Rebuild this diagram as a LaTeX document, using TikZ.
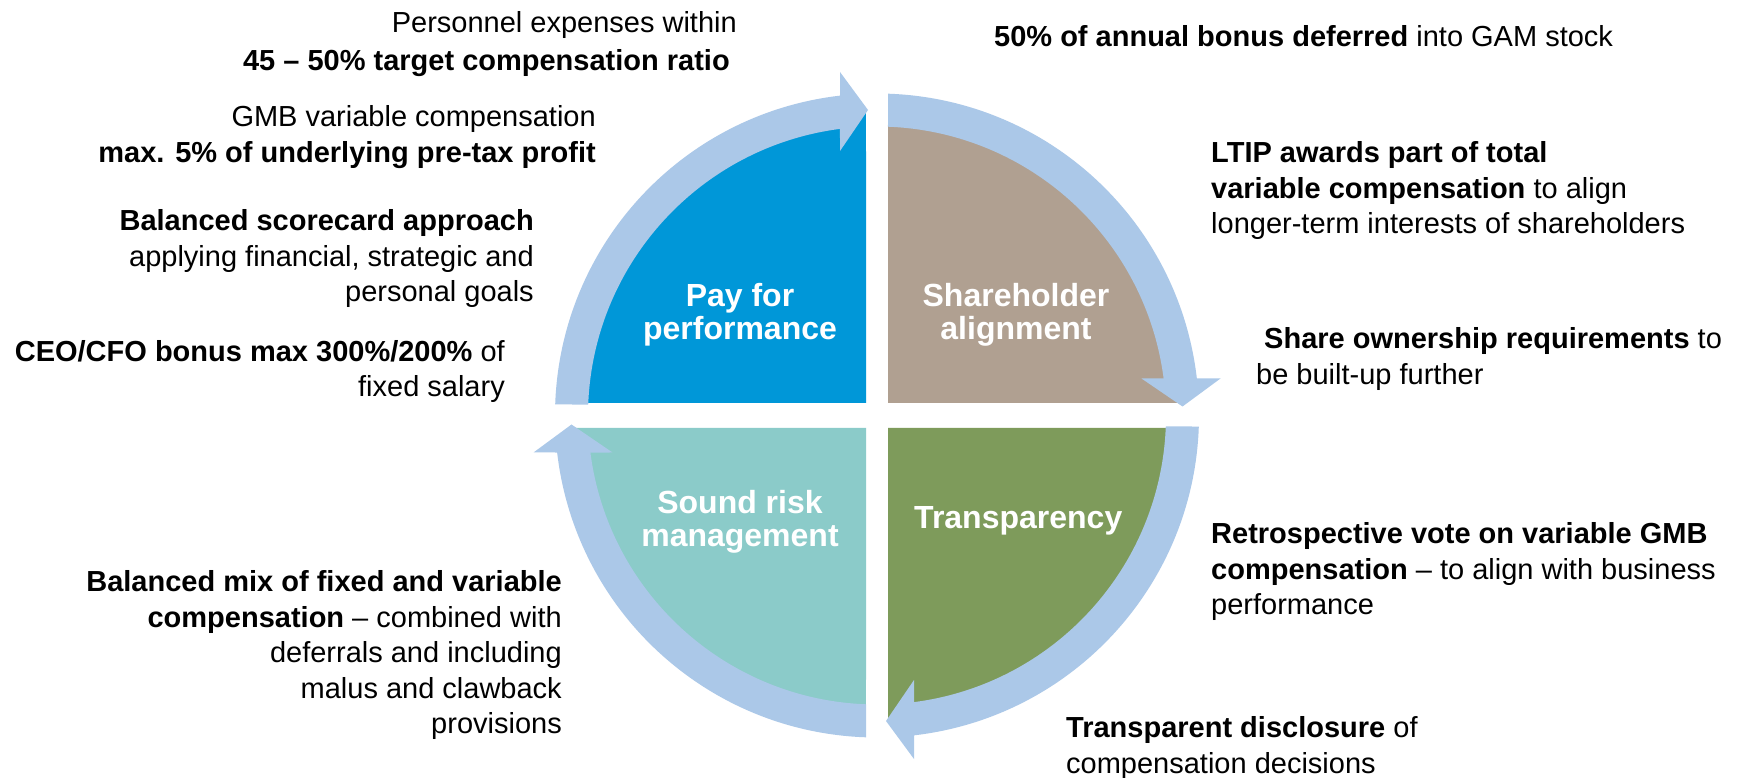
\documentclass[tikz,border=0pt]{standalone}
\usepackage{fontspec}
\setmainfont{Liberation Sans}
\definecolor{cblue}{HTML}{0097D8}
\definecolor{cbrown}{HTML}{B0A091}
\definecolor{cgreen}{HTML}{7E9B5B}
\definecolor{cteal}{HTML}{8BCBC9}
\definecolor{cring}{HTML}{ABC8E8}
\tikzset{
  sidetext/.style={inner sep=0pt, font=\fontsize{29}{35.5}\selectfont, text=black},
  lefttext/.style={sidetext, anchor=north east, align=right},
  righttext/.style={sidetext, anchor=north west, align=left},
  seclabel/.style={inner sep=0pt, font=\fontsize{32}{33}\selectfont\bfseries, text=white, align=center},
  ringarrow/.style={fill=cring},
}
\begin{document}
\begin{tikzpicture}[x=1pt,y=1pt]
\useasboundingbox[fill=white] (0,0) rectangle (1746,777);
% sectors
\begin{scope}[shift={(877,361.5)}]
  \fill[cblue]  (-11,12.5) -- (92.07:305) arc[start angle=92.07, end angle=177.65, radius=305] -- cycle;
  \fill[cbrown] (11,12.5) -- (87.93:305) arc[start angle=87.93, end angle=2.35, radius=305] -- cycle;
  \fill[cgreen] (11,-12.5) -- (-2.35:305) arc[start angle=-2.35, end angle=-87.93, radius=305] -- cycle;
  \fill[cteal]  (-11,-12.5) -- (-92.07:305) arc[start angle=-92.07, end angle=-177.65, radius=305] -- cycle;
  \foreach \k in {0,1,2,3}{
    \begin{scope}[rotate=-90*\k]
      \fill[ringarrow] (178.04:322) arc[start angle=178.04, end angle=96.60, radius=322]
        -- (-37,343.5) -- (-9,305.5) -- (-37,264.5)
        -- (97.36:289) arc[start angle=97.36, end angle=177.82, radius=289] -- cycle;
    \end{scope}
  }
\end{scope}
% sector labels
\node[seclabel, anchor=north] (pay) at (740,494) {Pay for\\performance};
\node[seclabel, anchor=north] (share) at (1016,494) {Shareholder\\alignment};
\node[seclabel, anchor=north] (sound) at (740,287) {Sound risk\\management};
\node[seclabel, anchor=base west] (trans) at (914,248) {Transparency};
% left texts
\node[lefttext, font=\fontsize{29}{38}\selectfont] (t1) at (730,766) {Personnel expenses within\hspace*{-7pt}\\\textbf{45 – 50\% target compensation ratio}};
\node[lefttext] (t2) at (596,671.5) {GMB variable compensation\\\textbf{max. 5\% of underlying pre-tax profit}};
\node[lefttext] (t3) at (534,567.5) {\textbf{Balanced scorecard approach}\\applying financial, strategic and\\personal goals};
\node[lefttext] (t4) at (505,437) {\textbf{CEO/CFO bonus max 300\%/200\%} of\\fixed salary};
\node[lefttext] (t5) at (562,206.5) {\textbf{Balanced mix of fixed and variable}\\\textbf{compensation} – combined with\\deferrals and including\\malus and clawback\\provisions};
% right texts
\node[righttext] (t6) at (994,751.5) {\textbf{50\% of annual bonus deferred} into GAM stock};
\node[righttext] (t7) at (1211,635.5) {\textbf{LTIP awards part of total}\\\textbf{variable compensation} to align\\longer-term interests of shareholders};
\node[righttext] (t8) at (1256,449.5) {\hspace*{8pt}\textbf{Share ownership requirements} to\\be built-up further};
\node[righttext] (t9) at (1211,254.5) {\textbf{Retrospective vote on variable GMB}\\\textbf{compensation} – to align with business\\performance};
\node[righttext] (t10) at (1066,60.5) {\textbf{Transparent disclosure} of\\compensation decisions};
\end{tikzpicture}
\end{document}
